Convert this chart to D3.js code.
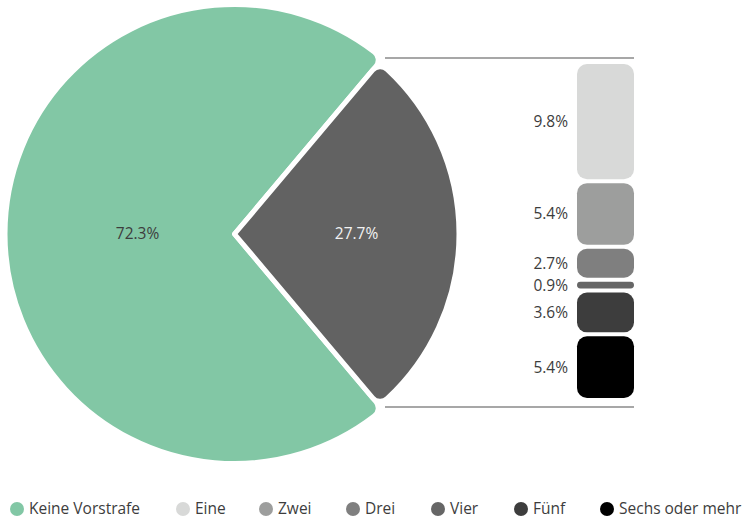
<!DOCTYPE html>
<html>
<head>
<meta charset="utf-8">
<script src="https://cdn.jsdelivr.net/npm/d3@7"></script>
<style>
  body { margin: 0; background: #fff; }
  text { font-family: "Open Sans", Lato, sans-serif; }
</style>
</head>
<body>
<div id="chart"></div>
<script>
// Pie: Vorstrafe ja / nein
const pieLabels = ['Keine Vorstrafe', 'Mit Vorstrafe'];
const pieValues = [72.3, 27.7];
const pieColors = ['#82c7a5', '#626262'];

// Aufschlüsselung des grauen Stücks
const barLabels = ['Eine', 'Zwei', 'Drei', 'Vier', 'Fünf', 'Sechs oder mehr'];
const barValues = [9.8, 5.4, 2.7, 0.9, 3.6, 5.4];
const barColors = ['#d8d9d8', '#9d9e9d', '#7f7f7f', '#666666', '#3d3d3d', '#000000'];

const legendLabels = ['Keine Vorstrafe'].concat(barLabels);
const legendColors = [pieColors[0]].concat(barColors);

const width = 745, height = 519;
const cx = 234.5, cy = 234;
const fontSize = 15.5;

const svg = d3.select('#chart').append('svg')
  .attr('width', width)
  .attr('height', height);

// Pie, grünes Stück links, graues rechts zentriert
const grayAngle = pieValues[1] / 100 * 2 * Math.PI;
const pie = d3.pie()
  .sort(null)
  .startAngle(Math.PI / 2 + grayAngle / 2)
  .endAngle(Math.PI / 2 + grayAngle / 2 + 2 * Math.PI);

const arcs = pie(pieValues);
const outerR = [229.5, 224.5];
const labelR = [97, 122];

const g = svg.append('g').attr('transform', `translate(${cx},${cy})`);

g.selectAll('path.slice')
  .data(arcs)
  .join('path')
  .attr('class', 'slice')
  .attr('d', (d, i) => d3.arc().innerRadius(0).outerRadius(outerR[i]).cornerRadius(10)(d))
  .attr('fill', (d, i) => pieColors[i])
  .attr('stroke', '#fff')
  .attr('stroke-width', 5)
  .attr('stroke-linejoin', 'round');

g.selectAll('text.pct')
  .data(arcs)
  .join('text')
  .attr('class', 'pct')
  .attr('transform', (d, i) => {
    const c = d3.arc().innerRadius(labelR[i]).outerRadius(labelR[i]).centroid(d);
    return `translate(${c[0]},${c[1]})`;
  })
  .attr('text-anchor', 'middle')
  .attr('dy', '0.35em')
  .attr('font-size', fontSize)
  .attr('fill', (d, i) => i === 0 ? '#3d3d3d' : '#f2f2f2')
  .text(d => d.value.toFixed(1) + '%');

// gestapelte Säule rechts
const total = d3.sum(barValues);
const y = d3.scaleLinear().domain([0, total]).range([62, 400]);
const barX = 577, barW = 57, gap = 2;
const stack = d3.cumsum(barValues);
const segs = barValues.map((v, i) => ({ v, y0: stack[i] - v, y1: stack[i], color: barColors[i] }));

svg.append('g').selectAll('rect')
  .data(segs)
  .join('rect')
  .attr('x', barX)
  .attr('y', d => y(d.y0) + gap)
  .attr('width', barW)
  .attr('height', d => y(d.y1) - y(d.y0) - 2 * gap)
  .attr('rx', d => Math.min(10, (y(d.y1) - y(d.y0) - 2 * gap) / 2))
  .attr('fill', d => d.color);

svg.append('g').selectAll('text')
  .data(segs)
  .join('text')
  .attr('x', 568)
  .attr('y', d => (y(d.y0) + y(d.y1)) / 2)
  .attr('dy', '0.35em')
  .attr('text-anchor', 'end')
  .attr('font-size', fontSize)
  .attr('fill', '#3d3d3d')
  .text(d => d.v.toFixed(1) + '%');

// Verbindungslinien
svg.append('g').selectAll('line')
  .data([58, 407])
  .join('line')
  .attr('x1', 385)
  .attr('x2', barX + barW)
  .attr('y1', d => d)
  .attr('y2', d => d)
  .attr('stroke', '#8a8a8a')
  .attr('stroke-width', 1.5);

// Legende
const legendX = [17, 183, 266, 353, 438, 521, 607];
const legend = svg.append('g').selectAll('g')
  .data(legendLabels)
  .join('g')
  .attr('transform', (d, i) => `translate(${legendX[i]},509)`);

legend.append('circle')
  .attr('r', 7)
  .attr('fill', (d, i) => legendColors[i]);

legend.append('text')
  .attr('x', 12)
  .attr('dy', '0.35em')
  .attr('font-size', fontSize)
  .attr('fill', '#3d3d3d')
  .text(d => d);
</script>
</body>
</html>
